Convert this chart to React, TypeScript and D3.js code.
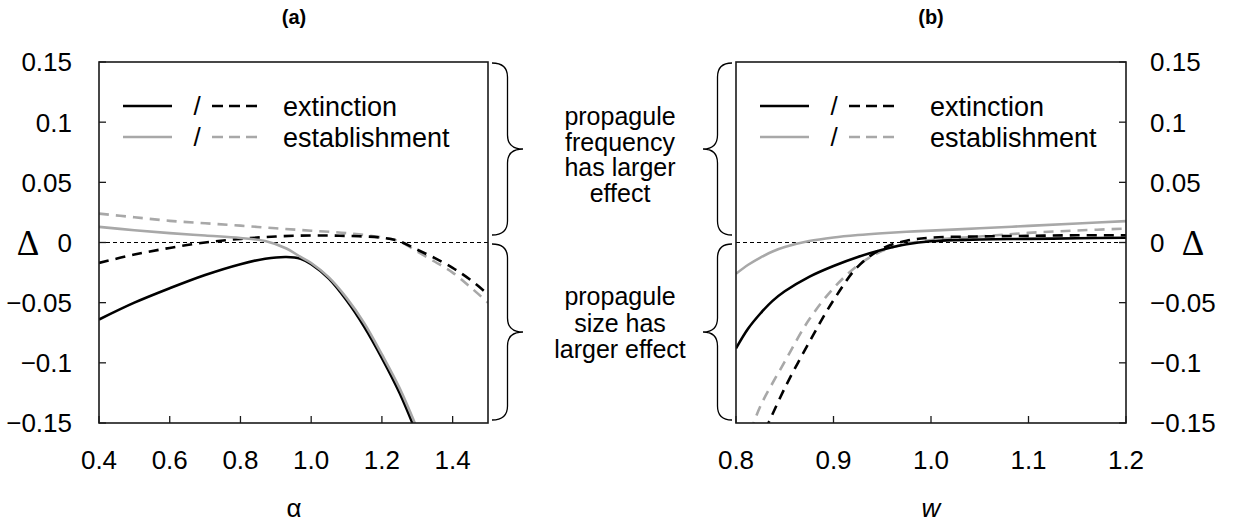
import React from 'react';
import * as d3 from 'd3';

// panel (a): alpha on the x axis
const alphaTicks = [0.4, 0.6, 0.8, 1.0, 1.2, 1.4];
const alphaSolid = [0.4, 0.5, 0.6, 0.7, 0.8, 0.87, 0.93, 0.97, 1.0, 1.05, 1.1, 1.15, 1.2, 1.25, 1.3];
const extinctionSolidA = [-0.064, -0.05, -0.038, -0.027, -0.018, -0.0135, -0.012, -0.0135, -0.018, -0.03, -0.048, -0.07, -0.096, -0.125, -0.16];
const establishSolidA = [0.013, 0.0102, 0.0078, 0.0058, 0.0038, 0.0012, -0.005, -0.012, -0.017, -0.029, -0.046, -0.067, -0.093, -0.121, -0.155];
const alphaDashed = [0.4, 0.5, 0.6, 0.7, 0.8, 0.9, 1.0, 1.1, 1.2, 1.25, 1.3, 1.35, 1.4, 1.45, 1.5];
const extinctionDashedA = [-0.017, -0.01, -0.0045, 0.0, 0.003, 0.005, 0.0058, 0.0055, 0.004, 0.001, -0.006, -0.013, -0.021, -0.031, -0.043];
const establishDashedA = [0.024, 0.021, 0.018, 0.016, 0.014, 0.0118, 0.0098, 0.0078, 0.0042, 0.0008, -0.0075, -0.016, -0.025, -0.037, -0.05];

// panel (b): w on the x axis
const wTicks = [0.8, 0.9, 1.0, 1.1, 1.2];
const wSolid = [0.8, 0.8125, 0.825, 0.8375, 0.85, 0.875, 0.9, 0.925, 0.95, 0.975, 1.0, 1.05, 1.1, 1.15, 1.2];
const extinctionSolidB = [-0.088, -0.0715, -0.059, -0.0485, -0.0405, -0.0285, -0.0195, -0.012, -0.006, -0.0015, 0.001, 0.0025, 0.003, 0.0035, 0.004];
const establishSolidB = [-0.026, -0.0185, -0.0125, -0.0075, -0.0038, 0.0012, 0.0042, 0.0062, 0.0077, 0.0089, 0.0099, 0.0118, 0.0138, 0.0158, 0.0178];
const wExtDashed = [0.83, 0.85, 0.875, 0.9, 0.925, 0.95, 0.975, 1.0, 1.05, 1.1, 1.15, 1.2];
const extinctionDashedB = [-0.156, -0.121, -0.083, -0.048, -0.02, -0.005, 0.0015, 0.004, 0.005, 0.0055, 0.006, 0.006];
const wEstDashed = [0.815, 0.825, 0.85, 0.875, 0.9, 0.925, 0.95, 0.975, 1.0, 1.05, 1.1, 1.15, 1.2];
const establishDashedB = [-0.157, -0.136, -0.099, -0.064, -0.038, -0.019, -0.007, -0.001, 0.002, 0.005, 0.008, 0.01, 0.0115];

const deltaTicks = [0.15, 0.1, 0.05, 0, -0.05, -0.1, -0.15];
const legendLabels = ['extinction', 'establishment'];
const freqText = ['propagule', 'frequency', 'has larger', 'effect'];
const sizeText = ['propagule', 'size has', 'larger effect'];

const W = 1233;
const H = 524;
const top = 62;
const bottom = 423;
const GRAY = '#a8a8a8';
const DASH = '10,7';
const sans = 'Liberation Sans, Arial, Helvetica, sans-serif';
const serif = 'Liberation Serif, Times New Roman, serif';

const y = d3.scaleLinear().domain([-0.15, 0.15]).range([bottom, top]);

const fmt = (v: number) => (v === 0 ? '0' : (v < 0 ? '\u2212' : '') + String(Math.abs(v)));

// curly brace between y0 and y1, opening at x, tip pointing dir (+1 right, -1 left)
function brace(x: number, y0: number, y1: number, w: number, dir: number) {
  const ym = (y0 + y1) / 2;
  const xm = x + dir * w * 0.5;
  const xt = x + dir * w;
  const r = 14;
  return `M${x},${y0} Q${xm},${y0} ${xm},${y0 + r} L${xm},${ym - r} Q${xm},${ym} ${xt},${ym} ` +
    `Q${xm},${ym} ${xm},${ym + r} L${xm},${y1 - r} Q${xm},${y1} ${x},${y1}`;
}

type Series = { xs: number[]; ys: number[]; color: string; dashed: boolean };

function Panel({ id, left, right, domain, ticks, series, legendText, tickSide }:
  { id: string; left: number; right: number; domain: [number, number]; ticks: number[];
    series: Series[]; legendText: number; tickSide: 'left' | 'right' }) {
  const x = d3.scaleLinear().domain(domain).range([left, right]);
  const line = d3.line<[number, number]>()
    .x((d) => x(d[0]))
    .y((d) => y(d[1]))
    .curve(d3.curveCatmullRom.alpha(0.5));
  const tickLen = 7;
  const legendRows = [
    { color: '#000', label: legendLabels[0], yy: 106 },
    { color: GRAY, label: legendLabels[1], yy: 137 },
  ];
  return (
    <g>
      <defs>
        <clipPath id={id}>
          <rect x={left} y={top} width={right - left} height={bottom - top} />
        </clipPath>
      </defs>
      <line x1={left} x2={right} y1={y(0)} y2={y(0)} stroke="#000" strokeWidth={1.2} strokeDasharray="4,3" />
      <g clipPath={`url(#${id})`}>
        {series.map((s, i) => (
          <path key={i} d={line(s.xs.map((v, j) => [v, s.ys[j]]) as [number, number][]) || ''}
            fill="none" stroke={s.color} strokeWidth={2.6}
            strokeDasharray={s.dashed ? DASH : undefined} />
        ))}
      </g>
      <rect x={left} y={top} width={right - left} height={bottom - top} fill="none" stroke="#1a1a1a" strokeWidth={1.6} />
      {ticks.map((t) => (
        <g key={t}>
          <line x1={x(t)} x2={x(t)} y1={bottom} y2={bottom - tickLen} stroke="#1a1a1a" strokeWidth={1.3} />
          <text x={x(t)} y={469} textAnchor="middle" fontFamily={sans} fontSize={26}>{t.toFixed(1)}</text>
        </g>
      ))}
      {deltaTicks.map((t) => {
        const xx = tickSide === 'left' ? left : right;
        const d = tickSide === 'left' ? tickLen : -tickLen;
        return (
          <g key={t}>
            <line x1={xx} x2={xx + d} y1={y(t)} y2={y(t)} stroke="#1a1a1a" strokeWidth={1.3} />
            <text x={tickSide === 'left' ? 72 : 1150} y={y(t)} dy="0.36em"
              textAnchor={tickSide === 'left' ? 'end' : 'start'} fontFamily={sans} fontSize={26}>{fmt(t)}</text>
          </g>
        );
      })}
      {legendRows.map((r) => (
        <g key={r.label}>
          <line x1={left + 24} x2={left + 73} y1={r.yy} y2={r.yy} stroke={r.color} strokeWidth={2.6} />
          <text x={left + 98} y={r.yy} dy="0.36em" textAnchor="middle" fontFamily={sans} fontSize={26}>/</text>
          <line x1={left + 113} x2={left + 158} y1={r.yy} y2={r.yy} stroke={r.color} strokeWidth={2.6} strokeDasharray="11,6" />
          <text x={left + legendText} y={r.yy} dy="0.36em" fontFamily={sans} fontSize={27}>{r.label}</text>
        </g>
      ))}
    </g>
  );
}

export default function App() {
  const seriesA: Series[] = [
    { xs: alphaDashed, ys: establishDashedA, color: GRAY, dashed: true },
    { xs: alphaDashed, ys: extinctionDashedA, color: '#000', dashed: true },
    { xs: alphaSolid, ys: extinctionSolidA, color: '#000', dashed: false },
    { xs: alphaSolid, ys: establishSolidA, color: GRAY, dashed: false },
  ];
  const seriesB: Series[] = [
    { xs: wEstDashed, ys: establishDashedB, color: GRAY, dashed: true },
    { xs: wExtDashed, ys: extinctionDashedB, color: '#000', dashed: true },
    { xs: wSolid, ys: extinctionSolidB, color: '#000', dashed: false },
    { xs: wSolid, ys: establishSolidB, color: GRAY, dashed: false },
  ];
  return (
    <svg width={W} height={H} style={{ position: 'absolute', left: 0, top: 0, background: '#fff' }}>
      <rect width={W} height={H} fill="#fff" />
      <text x={294} y={24} textAnchor="middle" fontFamily={sans} fontWeight="bold" fontSize={20}>(a)</text>
      <text x={931} y={24} textAnchor="middle" fontFamily={sans} fontWeight="bold" fontSize={20}>(b)</text>
      <Panel id="clipA" left={99} right={488} domain={[0.4, 1.5]} ticks={alphaTicks}
        series={seriesA} legendText={184} tickSide="left" />
      <Panel id="clipB" left={736} right={1126} domain={[0.8, 1.2]} ticks={wTicks}
        series={seriesB} legendText={194} tickSide="right" />
      <text x={28} y={255} textAnchor="middle" fontFamily={serif} fontSize={35}>Δ</text>
      <text x={1193} y={255} textAnchor="middle" fontFamily={serif} fontSize={35}>Δ</text>
      <text x={294} y={517} textAnchor="middle" fontFamily={sans} fontSize={26}>α</text>
      <text x={931} y={517} textAnchor="middle" fontFamily={sans} fontSize={26} fontStyle="italic">w</text>
      <path d={brace(492, 63, 235, 31, 1)} fill="none" stroke="#000" strokeWidth={1.3} />
      <path d={brace(492, 244, 420, 31, 1)} fill="none" stroke="#000" strokeWidth={1.3} />
      <path d={brace(732, 63, 235, 29, -1)} fill="none" stroke="#000" strokeWidth={1.3} />
      <path d={brace(732, 244, 420, 29, -1)} fill="none" stroke="#000" strokeWidth={1.3} />
      {freqText.map((t, i) => (
        <text key={'f' + i} x={620} y={125 + i * 25.5} textAnchor="middle" fontFamily={sans} fontSize={25}>{t}</text>
      ))}
      {sizeText.map((t, i) => (
        <text key={'s' + i} x={620} y={305 + i * 26.5} textAnchor="middle" fontFamily={sans} fontSize={25}>{t}</text>
      ))}
    </svg>
  );
}
